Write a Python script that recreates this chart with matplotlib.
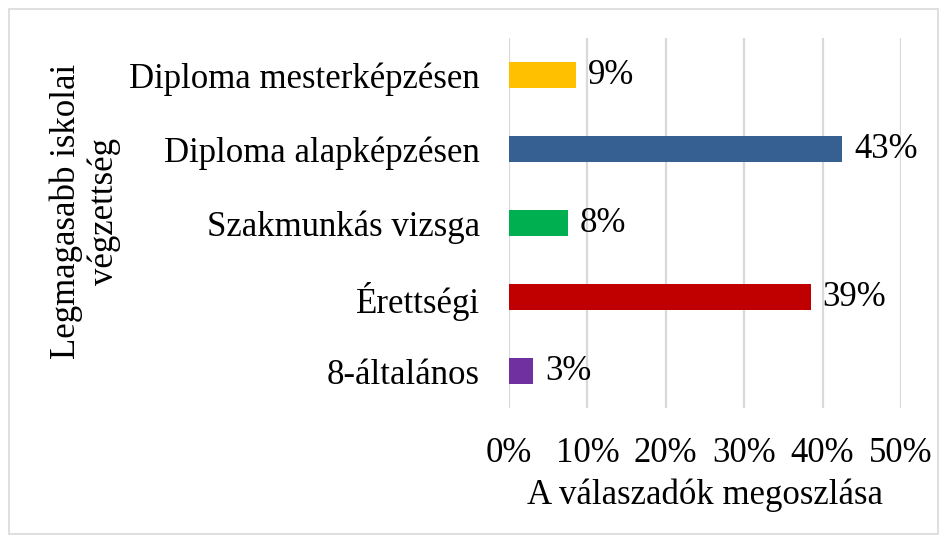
import matplotlib
matplotlib.use('Agg')
from matplotlib import pyplot as plt
from matplotlib.patches import Rectangle

# adatok (alulról felfelé)
categories = ['8-általános', 'Érettségi', 'Szakmunkás vizsga', 'Diploma alapképzésen', 'Diploma mesterképzésen']
values = [3.1, 38.5, 7.5, 42.5, 8.5]
value_labels = ['3%', '39%', '8%', '43%', '9%']
colors = ['#7030A0', '#C00000', '#00B050', '#376092', '#FFC000']
x_ticks = [0, 10, 20, 30, 40, 50]

plt.rcParams['font.family'] = ['Liberation Serif', 'DejaVu Serif']
fs = 25

fig = plt.figure(figsize=(9.47, 5.43), dpi=100)
ax = fig.add_axes([0.5375, 0.2486, 0.9514 - 0.5375, 0.930 - 0.2486])

ypos = range(len(categories))
ax.barh(ypos, values, height=0.36, color=colors, zorder=3)

for y, v, lab in zip(ypos, values, value_labels):
    ax.text(v + 1.5, y, lab, va='center', ha='left', fontsize=fs)

ax.set_xlim(0, 50)
ax.set_ylim(-0.5, len(categories) - 0.5)
ax.set_xticks(x_ticks)
ax.set_xticklabels([f'{t}%' for t in x_ticks], fontsize=fs)
ax.set_yticks(list(ypos))
ax.set_yticklabels(categories, fontsize=fs)
ax.tick_params(length=0, pad=21, axis='y')
ax.tick_params(length=0, pad=21, axis='x')
ax.xaxis.grid(True, color='#d9d9d9', linewidth=1.6, zorder=0)
for s in ax.spines.values():
    s.set_visible(False)

ax.set_xlabel('A válaszadók megoszlása', fontsize=fs, labelpad=6)
fig.text(0.09, 0.61, 'Legmagasabb iskolai\nvégzettség', rotation=90,
         ha='center', va='center', fontsize=fs, multialignment='center')

fig.patches.append(Rectangle((9 / 947, 9 / 543), 1 - 18 / 947, 1 - 18 / 543,
                             transform=fig.transFigure, fill=False,
                             edgecolor='#d9d9d9', linewidth=1.2))

fig.savefig('out.png', dpi=100)
